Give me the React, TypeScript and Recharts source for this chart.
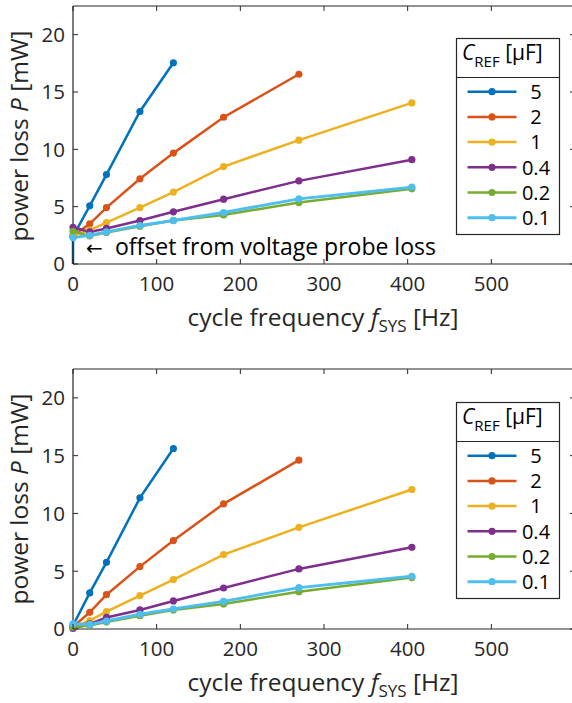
import React from 'react';
import { LineChart, Line, XAxis, YAxis, ReferenceLine } from 'recharts';

const FONT = '"Open Sans", "Noto Sans", sans-serif';
const AXIS = '#262626';
const TICK_FS = 20.5;
const LABEL_FS = 24.5;
const NOTE_FS = 23;
const LEG_FS = 20;

// cycle frequency f_SYS [Hz] at which each point was measured
const freqs = [0, 20, 40, 80, 120, 180, 270, 405];
const capLabels = ['5', '2', '1', '0.4', '0.2', '0.1'];
const capColors = ['#0072BD', '#D95319', '#EDB120', '#7E2F8E', '#77AC30', '#4DBEEE'];
const xTicks = [0, 100, 200, 300, 400, 500];
const yTicks = [0, 5, 10, 15, 20];

// upper panel: power loss P [mW], includes the voltage probe offset
const top5 = [2.4, 5.07, 7.8, 13.3, 17.55];
const top2 = [2.45, 3.5, 4.92, 7.43, 9.67, 12.8, 16.55];
const top1 = [2.5, 2.95, 3.6, 4.92, 6.27, 8.5, 10.8, 14.05];
const top04 = [3.2, 2.8, 3.1, 3.79, 4.55, 5.65, 7.25, 9.1];
const top02 = [2.85, 2.45, 2.75, 3.3, 3.8, 4.28, 5.36, 6.56];
const top01 = [2.3, 2.5, 2.8, 3.35, 3.79, 4.49, 5.68, 6.7];
// the 5 uF trace starts from zero at f = 0
const top5Drop = 0;

// lower panel: power loss P [mW], probe offset removed
const bot5 = [0.3, 3.12, 5.77, 11.35, 15.62];
const bot2 = [0.2, 1.44, 2.97, 5.4, 7.65, 10.83, 14.61];
const bot1 = [0.2, 0.72, 1.5, 2.89, 4.28, 6.44, 8.8, 12.07];
const bot04 = [0.05, 0.45, 1.0, 1.65, 2.43, 3.55, 5.2, 7.07];
const bot02 = [0.15, 0.3, 0.6, 1.15, 1.65, 2.17, 3.23, 4.45];
const bot01 = [0.45, 0.4, 0.69, 1.27, 1.73, 2.39, 3.58, 4.56];

type Pt = { f: number; P: number; noMarker?: boolean };

const toPoints = (vals: number[]): Pt[] => vals.map((P, i) => ({ f: freqs[i], P }));

const topSeries: Pt[][] = [
  [{ f: freqs[0], P: top5Drop, noMarker: true }, ...toPoints(top5)],
  toPoints(top2),
  toPoints(top1),
  toPoints(top04),
  toPoints(top02),
  toPoints(top01),
];
const botSeries: Pt[][] = [bot5, bot2, bot1, bot04, bot02, bot01].map(toPoints);

const CHART_W = 575; // plot box runs a few px past the 572px crop
const LEFT = 73;
const RIGHT = 575;

const makeDot = (color: string) => (props: any) => {
  const { cx, cy, index, payload } = props;
  if (payload && payload.noMarker) return <g key={`d${index}`} />;
  return <circle key={`d${index}`} cx={cx} cy={cy} r={3.6} fill={color} stroke="none" />;
};

interface PanelProps {
  series: Pt[][];
  offsetTop: number;
  plotTop: number;
  plotH: number;
  height: number;
}

const Panel: React.FC<PanelProps> = ({ series, offsetTop, plotTop, plotH, height }) => {
  const plotBottom = plotTop + plotH;

  const XTick = (props: any) => {
    const { x, payload } = props;
    return (
      <g>
        <line x1={x} x2={x} y1={plotBottom} y2={plotBottom - 5} stroke={AXIS} />
        <line x1={x} x2={x} y1={plotTop} y2={plotTop + 5} stroke={AXIS} />
        <text x={x} y={plotBottom + 27} textAnchor="middle" fill={AXIS} fontSize={TICK_FS} fontFamily={FONT}>
          {payload.value}
        </text>
      </g>
    );
  };

  const YTick = (props: any) => {
    const { y, payload } = props;
    return (
      <g>
        <line x1={LEFT} x2={LEFT + 5} y1={y} y2={y} stroke={AXIS} />
        <line x1={RIGHT - 5} x2={RIGHT} y1={y} y2={y} stroke={AXIS} />
        <text x={LEFT - 8} y={y} dy="0.36em" textAnchor="end" fill={AXIS} fontSize={TICK_FS} fontFamily={FONT}>
          {payload.value}
        </text>
      </g>
    );
  };

  return (
    <div style={{ position: 'absolute', left: 0, top: offsetTop }}>
      <LineChart
        width={CHART_W}
        height={height}
        margin={{ top: plotTop, right: 0, left: LEFT - 60, bottom: height - plotBottom - 30 }}
      >
        <XAxis
          type="number"
          dataKey="f"
          domain={[0, 600]}
          ticks={xTicks}
          stroke={AXIS}
          strokeWidth={1.2}
          tickLine={false}
          tickSize={0}
          height={30}
          tick={XTick}
        />
        <YAxis
          type="number"
          domain={[0, 22.5]}
          ticks={yTicks}
          stroke={AXIS}
          strokeWidth={1.2}
          tickLine={false}
          tickSize={0}
          width={60}
          tick={YTick}
        />
        <ReferenceLine y={22.5} stroke={AXIS} strokeWidth={1.2} />
        <ReferenceLine x={600} stroke={AXIS} strokeWidth={1.2} />
        {series.map((pts, i) => (
          <Line
            key={capLabels[i]}
            name={capLabels[i]}
            data={pts}
            dataKey="P"
            type="linear"
            stroke={capColors[i]}
            strokeWidth={i === 5 ? 3 : 2.5}
            dot={makeDot(capColors[i])}
            activeDot={false}
            isAnimationActive={false}
          />
        ))}
      </LineChart>
    </div>
  );
};

const LegendBox: React.FC<{ x: number; y: number }> = ({ x, y }) => {
  const headH = 39;
  const rowStep = 25.2;
  const boxH = headH + 157;
  return (
    <g fontFamily={FONT} fontSize={LEG_FS} fill="#000">
      <rect x={x + 0.5} y={y + 0.5} width={103} height={boxH} fill="#fff" stroke={AXIS} strokeWidth={1.2} />
      <line x1={x} x2={x + 103.5} y1={y + headH + 0.5} y2={y + headH + 0.5} stroke={AXIS} strokeWidth={1.2} />
      <text x={x + 6} y={y + 22} fontSize={21}>
        <tspan fontStyle="italic">C</tspan>
        <tspan fontSize={15} dy={6.5}>REF</tspan>
        <tspan dy={-6.5}> [µF]</tspan>
      </text>
      {capLabels.map((lab, i) => {
        const cy = y + headH + 14.7 + rowStep * i;
        return (
          <g key={lab}>
            <line x1={x + 11.5} x2={x + 60.5} y1={cy} y2={cy} stroke={capColors[i]} strokeWidth={i === 5 ? 3 : 2.5} />
            <circle cx={x + 36} cy={cy} r={3.6} fill={capColors[i]} />
            <text x={x + 80} y={cy} dy="0.36em" textAnchor="middle">
              {lab}
            </text>
          </g>
        );
      })}
    </g>
  );
};

const XTitle: React.FC<{ y: number }> = ({ y }) => (
  <text x={323} y={y} textAnchor="middle" fontFamily={FONT} fontSize={LABEL_FS} fill={AXIS}>
    cycle frequency <tspan fontStyle="italic">f</tspan>
    <tspan fontSize={17} dy={6}>SYS</tspan>
    <tspan dy={-6}> [Hz]</tspan>
  </text>
);

const YTitle: React.FC<{ cy: number }> = ({ cy }) => (
  <text
    x={28}
    y={cy}
    transform={`rotate(-90 28 ${cy})`}
    textAnchor="middle"
    fontFamily={FONT}
    fontSize={LABEL_FS}
    fill={AXIS}
  >
    power loss <tspan fontStyle="italic">P</tspan> [mW]
  </text>
);

export default function App() {
  return (
    <div style={{ position: 'absolute', left: 0, top: 0, width: 572, height: 703, overflow: 'hidden', background: '#fff' }}>
      <Panel series={topSeries} offsetTop={0} plotTop={6} plotH={258} height={345} />
      <Panel series={botSeries} offsetTop={360} plotTop={9} plotH={260} height={343} />
      <svg width={572} height={703} style={{ position: 'absolute', left: 0, top: 0, pointerEvents: 'none' }}>
        <YTitle cy={136} />
        <YTitle cy={499} />
        <XTitle y={326} />
        <XTitle y={691} />
        <text x={86} y={255} fontFamily='"DejaVu Sans", sans-serif' fontSize={20} fill="#000">←</text>
        <text x={115} y={255} fontFamily={FONT} fontSize={NOTE_FS} fill="#000">offset from voltage probe loss</text>
        <LegendBox x={456} y={38} />
        <LegendBox x={456} y={402} />
      </svg>
    </div>
  );
}
